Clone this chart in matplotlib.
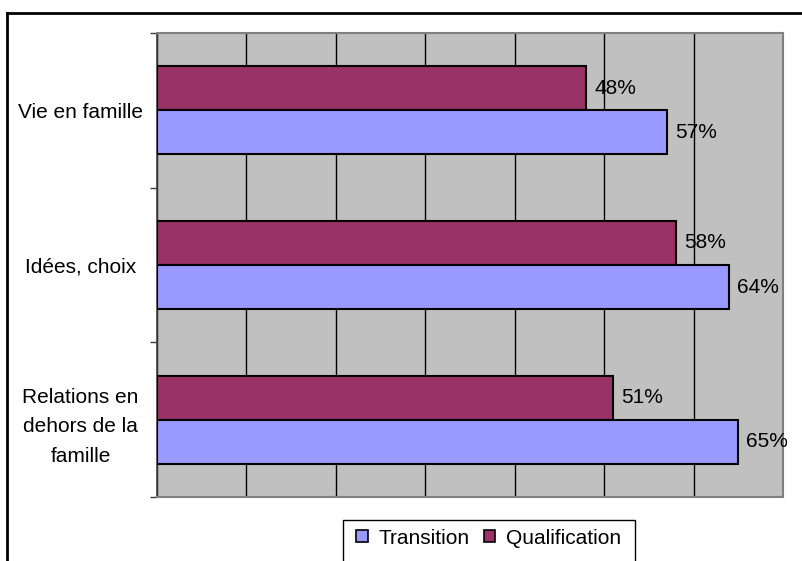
import matplotlib
matplotlib.use('Agg')
import matplotlib.pyplot as plt
from matplotlib.patches import Rectangle
from matplotlib.lines import Line2D
import numpy as np

categories = ['Vie en famille', 'Idées, choix', 'Relations en\ndehors de la\nfamille']
transition = [57, 64, 65]
qualification = [48, 58, 51]
series_names = ['Transition', 'Qualification']

C_TRANS = '#9999FF'
C_QUAL = '#993366'
BG = '#C0C0C0'
FS = 15

plt.rcParams['font.family'] = ['Liberation Sans', 'DejaVu Sans']

W, H = 803, 561
fig = plt.figure(figsize=(W / 100, H / 100), dpi=100)

# plot area in pixel coords
left, right, top, bottom = 157, 783, 33, 497
ax = fig.add_axes([left / W, 1 - bottom / H, (right - left) / W, (bottom - top) / H])
ax.set_facecolor(BG)

y = np.arange(len(categories))
bh = 0.285
ax.barh(y - bh / 2, qualification, height=bh, color=C_QUAL, edgecolor='black', linewidth=1.5, zorder=3)
ax.barh(y + bh / 2, transition, height=bh, color=C_TRANS, edgecolor='black', linewidth=1.5, zorder=3)

for i in range(len(categories)):
    ax.annotate('%d%%' % qualification[i], (qualification[i], y[i] - bh / 2),
                xytext=(8, 0), textcoords='offset pixels', va='center', ha='left', fontsize=FS)
    ax.annotate('%d%%' % transition[i], (transition[i], y[i] + bh / 2),
                xytext=(8, 0), textcoords='offset pixels', va='center', ha='left', fontsize=FS)

ax.set_xlim(0, 70)
ax.set_ylim(len(categories) - 0.5, -0.5)
ax.set_xticks(np.arange(0, 71, 10))
ax.xaxis.grid(True, color='black', linewidth=1.0, zorder=1)
ax.set_axisbelow(True)
ax.tick_params(axis='x', length=0, labelbottom=False)

# category ticks on boundaries, labels at centers
ax.set_yticks(np.arange(-0.5, len(categories), 1.0))
ax.set_yticklabels([])
ax.set_yticks(y, minor=True)
ax.set_yticklabels(categories, minor=True, fontsize=FS, ha='center',
                   multialignment='center', linespacing=1.7)
ax.tick_params(axis='y', which='major', length=5, width=1, color='#404040', direction='out')
ax.tick_params(axis='y', which='minor', length=0, pad=55)

for s in ['top', 'right', 'bottom']:
    ax.spines[s].set_color('#808080')
    ax.spines[s].set_linewidth(1.5)
ax.spines['left'].set_color('#404040')
ax.spines['left'].set_linewidth(1.2)

# outer chart frame (cut off at right and bottom)
fig.add_artist(Line2D([7 / W, 1.0], [1 - 13 / H, 1 - 13 / H], color='black', linewidth=2, transform=fig.transFigure))
fig.add_artist(Line2D([7 / W, 7 / W], [1 - 13 / H, 0.0], color='black', linewidth=2, transform=fig.transFigure))

# legend box (bottom cut off)
fig.add_artist(Rectangle((343 / W, -0.05), (635 - 343) / W, 0.05 + (1 - 520 / H),
                         transform=fig.transFigure, facecolor='white', edgecolor='black', linewidth=1))
handles = [Rectangle((0, 0), 1, 1, facecolor=C_TRANS, edgecolor='black', linewidth=1.2),
           Rectangle((0, 0), 1, 1, facecolor=C_QUAL, edgecolor='black', linewidth=1.2)]
fig.legend(handles, series_names, loc='center left', bbox_to_anchor=(346 / W, 1 - 538 / H),
           ncol=2, frameon=False, fontsize=FS, handlelength=0.55, handleheight=0.55,
           handletextpad=0.5, columnspacing=0.7, borderpad=0)

plt.savefig('out.png', dpi=100)
